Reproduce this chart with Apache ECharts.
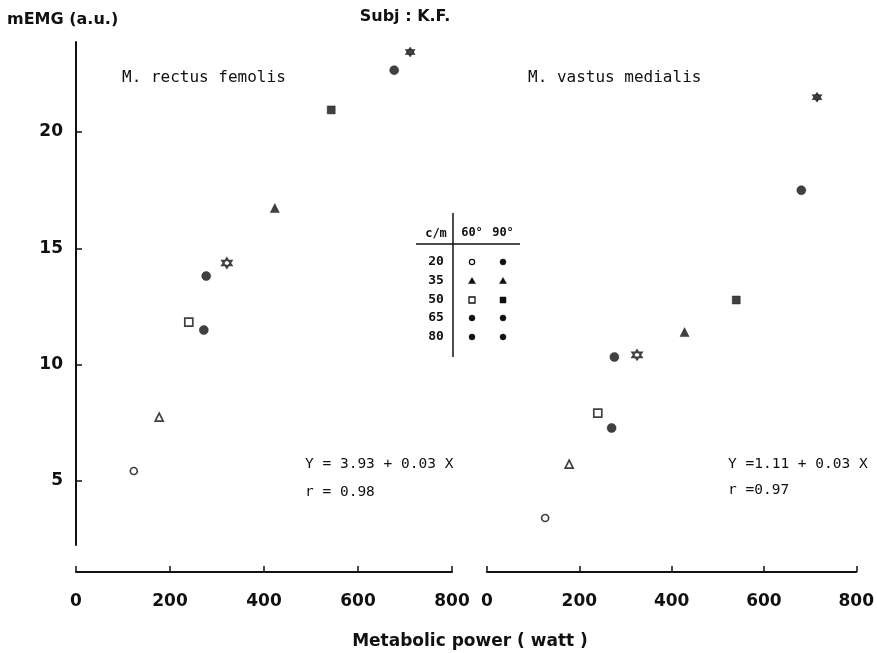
<!DOCTYPE html>
<html>
<head>
<meta charset="utf-8">
<script src="https://cdn.jsdelivr.net/npm/echarts@6/dist/echarts.min.js"></script>
<style>
  html, body { margin: 0; padding: 0; background: #fff; }
  #chart { width: 877px; height: 653px; }
</style>
</head>
<body>
<div id="chart"></div>
<script>
// Pedalling cadences (cycles/min) and knee angles
const cadences = ['20', '35', '50', '65', '80'];
const angles = ['60°', '90°'];

// M. rectus femoris: metabolic power (W) and mEMG (a.u.)
const rectus60Power = [123, 177, 240, 272, 321];
const rectus60Emg   = [5.43, 7.75, 11.83, 11.49, 14.37];
const rectus90Power = [277, 423, 543, 677, 711];
const rectus90Emg   = [13.81, 16.73, 20.95, 22.66, 23.44];

// M. vastus medialis
const vastus60Power = [126, 178, 240, 270, 325];
const vastus60Emg   = [3.41, 5.73, 7.92, 7.28, 10.42];
const vastus90Power = [276, 428, 540, 681, 715];
const vastus90Emg   = [10.33, 11.40, 12.78, 17.50, 21.50];

// Axis ticks
const powerTicks = [0, 200, 400, 600, 800];
const emgTicks = [5, 10, 15, 20];

// Marker shape per cadence, by angle (plot and key)
const plotShapes60 = ['openCircle', 'openTriangle', 'openSquare', 'dot', 'openStar'];
const plotShapes90 = ['dot', 'triangle', 'square', 'dot', 'star'];
const keyShapes60  = ['openCircle', 'triangle', 'openSquare', 'dot', 'dot'];
const keyShapes90  = ['dot', 'triangle', 'square', 'dot', 'dot'];

const INK = '#111';
const SANS = 'DejaVu Sans';
const MONO = 'DejaVu Sans Mono';
const STAR = 'path://M0,-10L8.66,5L-8.66,5Z M0,10L-8.66,-5L8.66,-5Z';

function markerStyle(shape) {
  const open = { color: '#fff', borderColor: INK, borderWidth: 1.7 };
  const full = { color: INK, borderColor: INK, borderWidth: 0.5 };
  switch (shape) {
    case 'openCircle':   return { symbol: 'circle', symbolSize: 7, itemStyle: open };
    case 'dot':          return { symbol: 'circle', symbolSize: 9, itemStyle: full };
    case 'openTriangle': return { symbol: 'triangle', symbolSize: 8, itemStyle: open };
    case 'triangle':     return { symbol: 'triangle', symbolSize: 9, itemStyle: full };
    case 'openSquare':   return { symbol: 'rect', symbolSize: 8, itemStyle: open };
    case 'square':       return { symbol: 'rect', symbolSize: 8, itemStyle: full };
    case 'openStar':     return { symbol: STAR, symbolSize: 10, itemStyle: { color: '#fff', borderColor: INK, borderWidth: 1.6 } };
    case 'star':         return { symbol: STAR, symbolSize: 10, itemStyle: full };
  }
}

function points(power, emg, shapes) {
  return power.map((p, i) => Object.assign({ value: [p, emg[i]] }, markerStyle(shapes[i])));
}

function scatter(name, idx, power, emg, shapes) {
  return {
    name: name,
    type: 'scatter',
    xAxisIndex: idx,
    yAxisIndex: idx,
    data: points(power, emg, shapes),
    silent: true,
    animation: false
  };
}

const yMin = 2.25, yMax = 23.87;

function xAxisFor(grid) {
  return {
    gridIndex: grid,
    type: 'value',
    min: 0, max: 800, interval: 200,
    offset: 27,
    axisLine: { show: true, lineStyle: { color: INK, width: 2 } },
    axisTick: { show: true, inside: true, length: 6, lineStyle: { color: INK, width: 1.5 } },
    axisLabel: { margin: 21, fontSize: 17, fontWeight: 'bold', color: INK, fontFamily: SANS,
                 formatter: v => powerTicks.includes(v) ? String(v) : '' },
    splitLine: { show: false }
  };
}

// Key (c/m vs angle) drawn as a small table
const keyX = { label: 436, a60: 472, a90: 503 };
const keyRowY = [262, 281, 300, 318, 337];

function keyMarker(shape, x, y) {
  const open = shape.startsWith('open');
  const style = open ? { fill: '#fff', stroke: INK, lineWidth: 1.3 } : { fill: INK, stroke: INK, lineWidth: 0.5 };
  if (shape === 'openCircle' || shape === 'dot') {
    return { type: 'circle', shape: { cx: x, cy: y, r: open ? 2.6 : 3 }, style: style };
  }
  if (shape === 'triangle' || shape === 'openTriangle') {
    return { type: 'polygon', shape: { points: [[x, y - 3.5], [x + 3.5, y + 2.5], [x - 3.5, y + 2.5]] }, style: style };
  }
  return { type: 'rect', shape: { x: x - 3, y: y - 3, width: 6, height: 6 }, style: style };
}

function txt(text, x, y, size, opts) {
  opts = opts || {};
  return {
    type: 'text',
    style: {
      text: text, x: x, y: y,
      fill: INK,
      font: (opts.weight ? opts.weight + ' ' : '') + size + 'px "' + (opts.family || SANS) + '"',
      textAlign: opts.align || 'left',
      textVerticalAlign: 'middle'
    }
  };
}

const graphics = [
  txt('mEMG (a.u.)', 7, 20, 16, { weight: 'bold' }),
  txt('Subj : K.F.', 405, 17, 16, { align: 'center', weight: 'bold' }),
  txt('M. rectus femolis', 122, 78, 16, { family: MONO }),
  txt('M. vastus medialis', 528, 78, 16, { family: MONO }),
  txt('Y = 3.93 + 0.03 X', 305, 464, 14.5, { family: MONO }),
  txt('r = 0.98', 305, 492, 14.5, { family: MONO }),
  txt('Y =1.11 + 0.03 X', 728, 464, 14.5, { family: MONO }),
  txt('r =0.97', 728, 490, 14.5, { family: MONO }),
  txt('Metabolic power ( watt )', 470, 642, 17, { align: 'center', weight: 'bold' }),
  { type: 'line', shape: { x1: 453, y1: 213, x2: 453, y2: 357 }, style: { stroke: INK, lineWidth: 1.5 } },
  { type: 'line', shape: { x1: 416, y1: 244, x2: 520, y2: 244 }, style: { stroke: INK, lineWidth: 1.5 } },
  txt('c/m', keyX.label, 234, 12, { align: 'center', family: MONO, weight: 'bold' }),
  txt(angles[0], keyX.a60, 233, 12, { align: 'center', family: MONO, weight: 'bold' }),
  txt(angles[1], keyX.a90, 233, 12, { align: 'center', family: MONO, weight: 'bold' })
];

cadences.forEach((c, i) => {
  graphics.push(txt(c, keyX.label, keyRowY[i], 13, { align: 'center', family: MONO, weight: 'bold' }));
  graphics.push(keyMarker(keyShapes60[i], keyX.a60, keyRowY[i]));
  graphics.push(keyMarker(keyShapes90[i], keyX.a90, keyRowY[i]));
});

const option = {
  backgroundColor: '#fff',
  animation: false,
  grid: [
    { left: 76, right: 425, top: 42, bottom: 108 },
    { left: 487, right: 16, top: 42, bottom: 108 }
  ],
  xAxis: [xAxisFor(0), xAxisFor(1)],
  yAxis: [
    {
      gridIndex: 0, type: 'value', min: yMin, max: yMax,
      axisLine: { show: true, lineStyle: { color: INK, width: 2 } },
      axisTick: { show: true, inside: true, length: 6, customValues: emgTicks, lineStyle: { color: INK, width: 1.5 } },
      axisLabel: { margin: 13, fontSize: 17, fontWeight: 'bold', color: INK, fontFamily: SANS, customValues: emgTicks },
      splitLine: { show: false }
    },
    { gridIndex: 1, type: 'value', min: yMin, max: yMax, show: false, splitLine: { show: false } }
  ],
  series: [
    scatter('rectus 60°', 0, rectus60Power, rectus60Emg, plotShapes60),
    scatter('rectus 90°', 0, rectus90Power, rectus90Emg, plotShapes90),
    scatter('vastus 60°', 1, vastus60Power, vastus60Emg, plotShapes60),
    scatter('vastus 90°', 1, vastus90Power, vastus90Emg, plotShapes90)
  ],
  graphic: graphics
};

const chart = echarts.init(document.getElementById('chart'));
chart.setOption(option);
</script>
</body>
</html>
